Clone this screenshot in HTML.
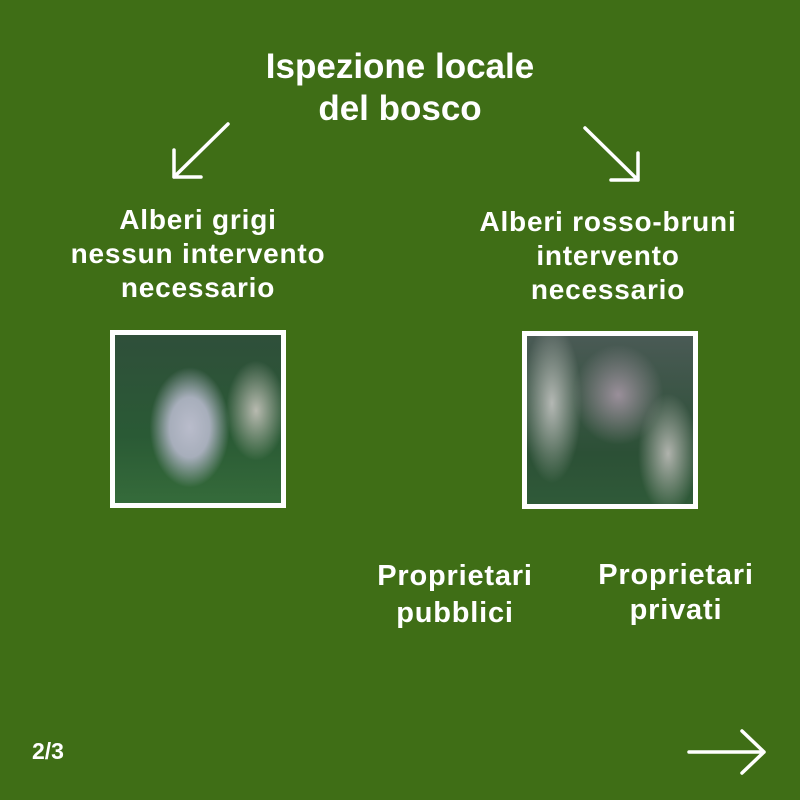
<!DOCTYPE html>
<html><head><meta charset="utf-8"><style>
body{margin:0;width:800px;height:800px;background:#3f6e16;position:relative;overflow:hidden;font-family:"Liberation Sans",sans-serif;color:#fff;}
.t{position:absolute;text-align:center;font-weight:bold;white-space:nowrap;transform:translateX(-50%);}
.img{position:absolute;border:5px solid #fff;box-sizing:border-box;overflow:hidden;}
</style></head><body>
<div class="t" style="left:400px;top:46px;font-size:35px;line-height:42px;">Ispezione locale<br>del bosco</div>
<div class="t" style="left:198px;top:203px;font-size:28px;line-height:34px;letter-spacing:0.8px;">Alberi grigi<br>nessun intervento<br>necessario</div>
<div class="t" style="left:608px;top:205px;font-size:28px;line-height:34px;letter-spacing:0.8px;">Alberi rosso-bruni<br>intervento<br>necessario</div>
<div class="t" style="left:455px;top:558px;font-size:29px;line-height:37px;letter-spacing:0.8px;">Proprietari<br>pubblici</div>
<div class="t" style="left:676px;top:558px;font-size:29px;line-height:35px;letter-spacing:0.8px;">Proprietari<br>privati</div>
<div style="position:absolute;left:32px;top:738px;font-size:23px;font-weight:bold;">2/3</div>
<div class="img" style="left:110px;top:330px;width:176px;height:178px;background:
radial-gradient(ellipse 40px 60px at 45% 55%,#b9bccb 0%,#a7aebb 50%,rgba(0,0,0,0) 100%),
radial-gradient(ellipse 30px 50px at 85% 45%,#b8bab0 0%,rgba(0,0,0,0) 100%),
linear-gradient(180deg,#2f4f3a,#2a5a35 60%,#356b3a);"></div>
<div class="img" style="left:522px;top:331px;width:176px;height:178px;background:
radial-gradient(ellipse 45px 50px at 55% 35%,#9a8f9a 0%,rgba(0,0,0,0) 100%),
radial-gradient(ellipse 30px 80px at 15% 40%,#b4b8b4 0%,rgba(0,0,0,0) 100%),
radial-gradient(ellipse 30px 60px at 85% 70%,#b0b3ad 0%,rgba(0,0,0,0) 100%),
linear-gradient(180deg,#4a5a55,#2c5036 70%,#2f5a38);"></div>
<svg width="800" height="800" style="position:absolute;left:0;top:0" fill="none" stroke="#fff" stroke-width="3.5" stroke-linecap="round" stroke-linejoin="round">
<path d="M228 124 L174 177 M174 150 L174 177 L201 177"/>
<path d="M585 128 L638 180 M638 153 L638 180 L611 180"/>
<path d="M689 752 L764 752 M742 731 L764 752 L742 773"/>
</svg>
</body></html>
